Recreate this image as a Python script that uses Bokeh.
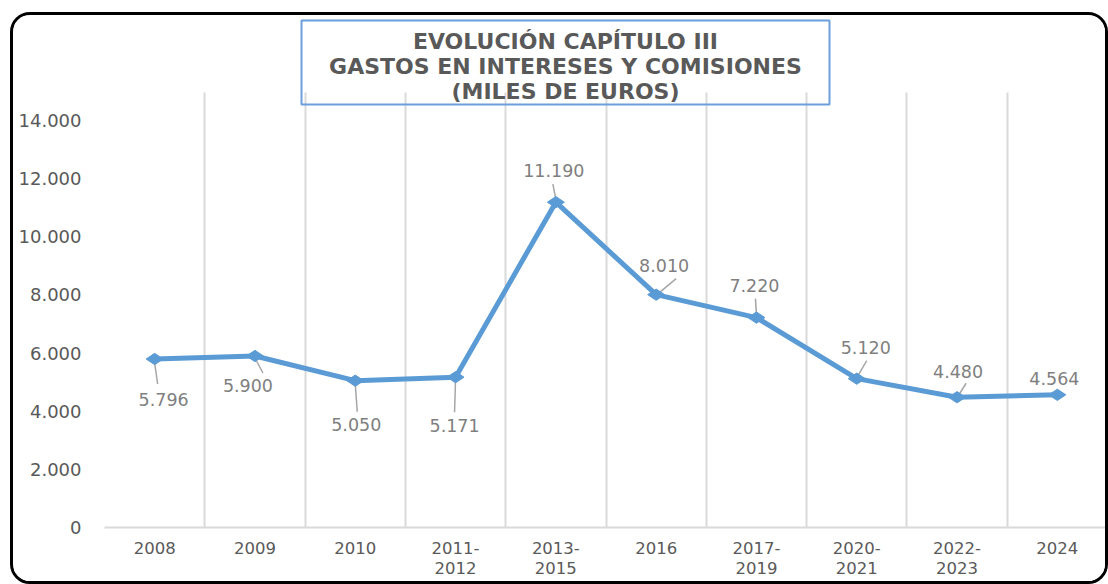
import math
from bokeh.plotting import figure
from bokeh.models import FixedTicker, Range1d, BoxAnnotation, Label, ColumnDataSource
from bokeh.core.properties import value
from bokeh.embed import file_html
from bokeh.resources import INLINE

# ---- data ----
categories = ["2008", "2009", "2010", "2011-\n2012", "2013-\n2015", "2016",
              "2017-\n2019", "2020-\n2021", "2022-\n2023", "2024"]
values = [5796, 5900, 5050, 5171, 11190, 8010, 7220, 5120, 4480, 4564]
value_labels = ["5.796", "5.900", "5.050", "5.171", "11.190", "8.010",
                "7.220", "5.120", "4.480", "4.564"]
y_ticks = [0, 2000, 4000, 6000, 8000, 10000, 12000, 14000]
y_tick_labels = ["0", "2.000", "4.000", "6.000", "8.000", "10.000", "12.000", "14.000"]
title_text = "EVOLUCIÓN CAPÍTULO III\nGASTOS EN INTERESES Y COMISIONES\n(MILES DE EUROS)"

# ---- label placement (screen px offsets, y down) ----
lab_dx = [9, -7, 1, -1, -2, 8, -2, 9, 1, -3]
lab_dy = [40, 30, 44, 48, -32, -29, -32, -31, -26, -16]
leaders = [(0, 4, 3, 25), (0, 2, 8, 17), (0, 3, 2, 31), (0, 2, -1, 35),
           (-3, -18, 0, -3), (20, -16, 2, -1), (-1, -19, 0, -3),
           (10, -18, 0, -1), (9, -14, 1, -1), None]

# ---- layout ----
W, H = 1098, 572
OFF_X, OFF_Y = 10 + 3, 12 + 3        # canvas origin on page (margin + border)
ML, MT, MB, MR = 91, 0, 60, 4
frame_w = W - ML - MR
frame_h = H - MT - MB
PX_PER_UNIT_Y = 407 / 14000
Y_END = frame_h / PX_PER_UNIT_Y
X0, X1 = -0.5, len(categories) - 0.5
px_x = (X1 - X0) / frame_w
px_y = 1 / PX_PER_UNIT_Y
FRAME_LEFT = OFF_X + ML
FRAME_BOTTOM = OFF_Y + MT + frame_h


def page_x(px):
    return (px - FRAME_LEFT) * px_x + X0


def page_y(py):
    return (FRAME_BOTTOM - py) * px_y


p = figure(width=W, height=H, output_backend="svg", toolbar_location=None,
           x_range=Range1d(X0, X1), y_range=Range1d(0, Y_END),
           min_border_left=ML, min_border_top=MT, min_border_bottom=MB,
           min_border_right=MR, title=None)
p.styles = {"border": "3px solid #000000", "border-radius": "20px",
            "margin-left": "10px", "margin-top": "12px", "overflow": "hidden"}
p.outline_line_color = None
p.background_fill_color = "white"
p.border_fill_color = "white"

xs = list(range(len(categories)))

# grid
p.ygrid.visible = False
p.xgrid.ticker = FixedTicker(ticks=[i - 0.5 for i in range(len(categories) + 1)])
p.xgrid.grid_line_color = "#D9D9D9"
p.xgrid.grid_line_width = 2
p.xgrid.cross_bounds = (0, page_y(92))

# axes
p.xaxis.ticker = FixedTicker(ticks=xs)
p.xaxis.major_label_overrides = {i: c for i, c in enumerate(categories)}
p.xaxis.axis_line_color = "#D9D9D9"
p.xaxis.axis_line_width = 2
p.xaxis.major_tick_line_color = None
p.xaxis.minor_tick_line_color = None
p.xaxis.major_label_standoff = 5
p.xaxis.major_label_text_font = "DejaVu Sans"
p.xaxis.major_label_text_font_size = "16.5px"
p.xaxis.major_label_text_color = "#595959"
p.xaxis.major_label_text_line_height = 1.1

p.yaxis.ticker = FixedTicker(ticks=y_ticks)
p.yaxis.major_label_overrides = {t: l for t, l in zip(y_ticks, y_tick_labels)}
p.yaxis.axis_line_color = None
p.yaxis.major_tick_line_color = None
p.yaxis.minor_tick_line_color = None
p.yaxis.major_tick_out = 0
p.yaxis.major_label_standoff = 23
p.yaxis.major_label_text_font = "DejaVu Sans"
p.yaxis.major_label_text_font_size = "18px"
p.yaxis.major_label_text_color = "#595959"

# leader lines
lx0, ly0, lx1, ly1 = [], [], [], []
for i, ld in enumerate(leaders):
    if ld is None:
        continue
    sdx, sdy, edx, edy = ld
    lx0.append(xs[i] + sdx * px_x)
    ly0.append(values[i] - sdy * px_y)
    lx1.append(xs[i] + edx * px_x)
    ly1.append(values[i] - edy * px_y)
p.segment(lx0, ly0, lx1, ly1, line_color="#A6A6A6", line_width=1.5)

# series
p.line(xs, values, line_color="#5B9BD5", line_width=5)
p.scatter(xs, values, marker="diamond", angle=math.pi / 2, size=17,
          fill_color="#5B9BD5", line_color="#5B9BD5")

# data labels
src = ColumnDataSource(dict(x=xs, y=values, t=value_labels, dx=lab_dx, dy=lab_dy))
p.text(x="x", y="y", text="t", x_offset="dx", y_offset="dy", source=src,
       text_align="center", text_baseline="middle",
       text_font=value("DejaVu Sans"), text_font_size="17.5px", text_color="#7F7F7F")

# title box
box_l, box_r = page_x(301), page_x(829)
box_t, box_b = page_y(20), page_y(104)
p.add_layout(BoxAnnotation(left=box_l, right=box_r, top=box_t, bottom=box_b,
                           fill_color=None, line_color="#6A9FDB", line_alpha=1.0,
                           line_width=2))
p.add_layout(Label(x=(box_l + box_r) / 2, y=page_y(66), text=title_text,
                   text_align="center", text_baseline="middle",
                   text_font="DejaVu Sans", text_font_style="bold",
                   text_font_size="22px", text_color="#595959",
                   text_line_height=1.0))

open("out.html", "w").write(file_html(p, INLINE))
